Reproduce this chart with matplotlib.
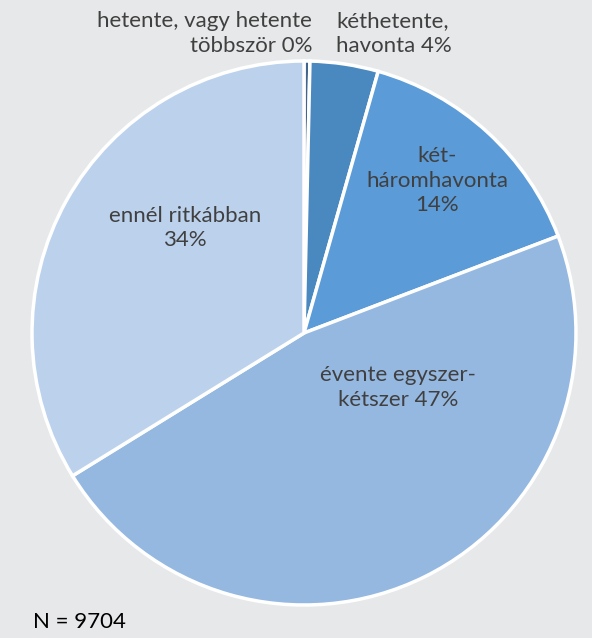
import matplotlib.pyplot as plt

# data
categories = ['hetente, vagy hetente\ntöbbször 0%', 'kéthetente,\nhavonta 4%',
              'két-\nháromhavonta\n14%', 'évente egyszer-\nkétszer 47%',
              'ennél ritkábban\n34%']
shares = [0.35, 4.05, 14.8, 47.0, 33.8]
colors = ['#41658f', '#4a88c0', '#5a9bd8', '#95b8e1', '#bcd2ec']

bg = '#e7e8e9'
fig = plt.figure(figsize=(5.92, 6.38), dpi=100, facecolor=bg)
ax = fig.add_axes([32 / 592, 33 / 638, 544 / 592, 544 / 638])
ax.set_facecolor(bg)

ax.pie(shares, colors=colors, startangle=90, counterclock=False, radius=1,
       wedgeprops=dict(edgecolor='white', linewidth=2.5))
ax.set_xlim(-1, 1)
ax.set_ylim(-1, 1)
ax.set_aspect('equal')
ax.axis('off')

fs = 16
tc = '#404040'
fam = 'Lato'
ls = 1.3
# label positions in data units (pixel offsets / radius)
ax.text(0.03, 1.10, categories[0], ha='right', va='center', fontsize=fs, color=tc,
        family=fam, linespacing=ls)
ax.text(0.118, 1.10, categories[1], ha='left', va='center', fontsize=fs, color=tc,
        family=fam, linespacing=ls)
ax.text(0.489, 0.56, categories[2], ha='center', va='center', fontsize=fs, color=tc,
        family=fam, linespacing=ls)
ax.text(0.346, -0.20, categories[3], ha='center', va='center', fontsize=fs, color=tc,
        family=fam, linespacing=ls)
ax.text(-0.4375, 0.386, categories[4], ha='center', va='center', fontsize=fs, color=tc,
        family=fam, linespacing=ls)

fig.text(33 / 592, 1 - 622 / 638, 'N = 9704', ha='left', va='center', fontsize=fs,
         color='black', family=fam)

fig.savefig('out.png', dpi=100, facecolor=bg)
